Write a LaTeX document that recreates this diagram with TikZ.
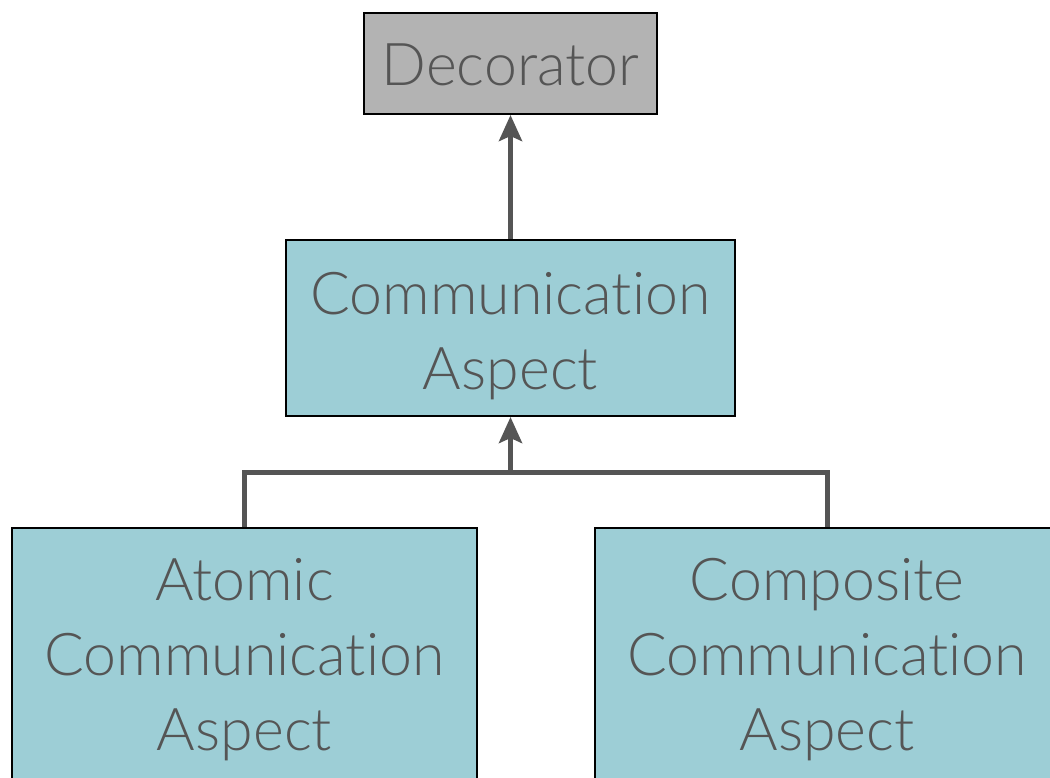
\documentclass[tikz,border=0pt]{standalone}
\usepackage{fontspec}
\setmainfont{Lato Light}[Ligatures={NoCommon,NoRare,NoDiscretionary}]
\usetikzlibrary{arrows.meta}
\definecolor{txtgray}{HTML}{555555}
\definecolor{linkgray}{HTML}{555555}
\definecolor{boxgray}{HTML}{B3B3B3}
\definecolor{boxteal}{HTML}{9DCED6}
\begin{document}
\begin{tikzpicture}[x=1pt,y=-1pt,
  box/.style={draw=black, line width=2pt, rectangle, inner sep=0pt},
  classbox/.style={box, fill=boxteal},
  basebox/.style={box, fill=boxgray},
  caption/.style={inner sep=0pt, align=center, text=txtgray,
    font=\fontsize{59}{75}\selectfont},
  link/.style={draw=linkgray, line width=5pt},
  inherit/.style={link, -{Stealth[length=26pt,width=23pt,inset=5pt]}}]
\useasboundingbox (0,0) rectangle (1050,777);
\clip (0,0) rectangle (1050,777);

% class boxes
\node[basebox, minimum width=293pt, minimum height=101pt] (deco) at (510.5,63.5) {};
\node[classbox, minimum width=449pt, minimum height=176pt] (comm) at (510.5,328) {};
\node[classbox, minimum width=465pt, minimum height=256pt, anchor=north] (atomic) at (244.5,527) {};
\node[classbox, minimum width=465pt, minimum height=256pt, anchor=north] (composite) at (827,527) {};

% class names
\node[caption] (decotxt) at (510.5,64.5) {Decorator};
\node[caption] (commtxt) at (510.5,336) {Communication\\Aspect};
\node[caption] (atomictxt) at (244.5,660) {Atomic\\Communication\\Aspect};
\node[caption] (compositetxt) at (827,660) {Composite\\Communication\\Aspect};

% inheritance links
\coordinate (join) at (510.5,472);
\draw[inherit] (comm.north) -- (deco.south);
\draw[link] (atomic.north) |- (join) -| (composite.north);
\draw[inherit] (join) -- (comm.south);
\end{tikzpicture}
\end{document}
